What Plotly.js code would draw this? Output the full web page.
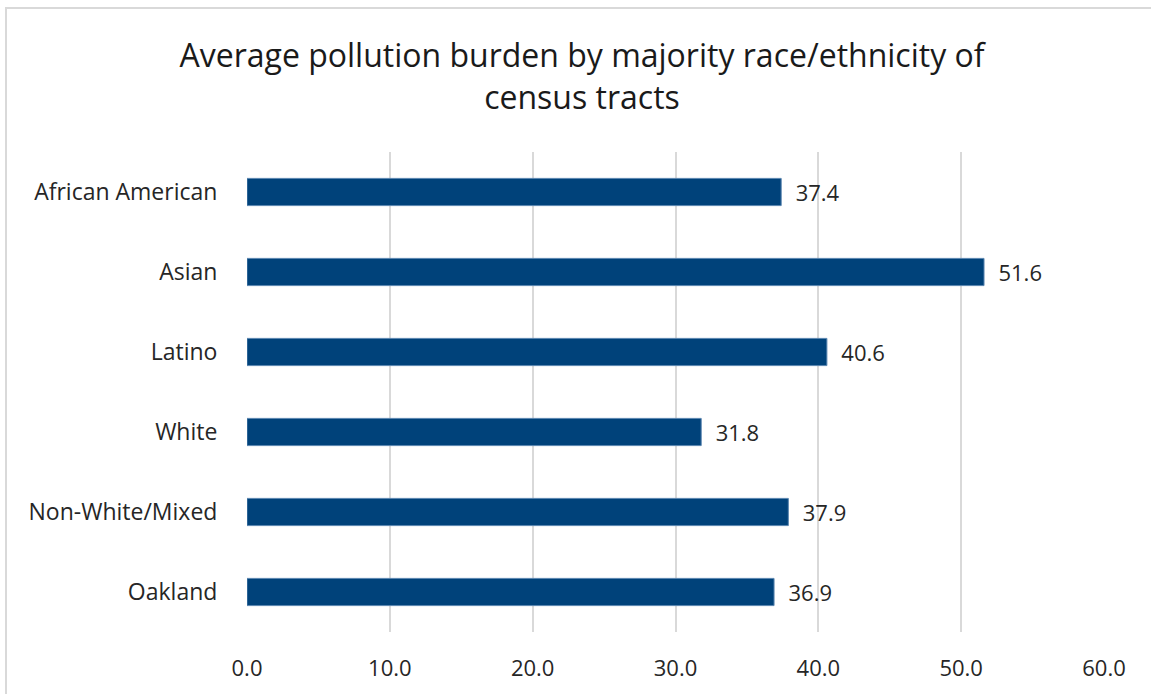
<!DOCTYPE html>
<html>
<head>
<meta charset="utf-8">
<script src="https://cdn.plot.ly/plotly-3.0.1.min.js"></script>
<style>html,body{margin:0;padding:0;background:#fff;}#chart{width:1151px;height:694px;}</style>
</head>
<body>
<div id="chart"></div>
<script>
const categories = ["African American", "Asian", "Latino", "White", "Non-White/Mixed", "Oakland"];
const values = [37.4, 51.6, 40.6, 31.8, 37.9, 36.9];
const tickValues = [0, 10, 20, 30, 40, 50, 60];
const tickLabels = ["0.0", "10.0", "20.0", "30.0", "40.0", "50.0", "60.0"];
const titleText = "Average pollution burden by majority race/ethnicity of<br>census tracts";

const W = 1151, H = 694;
const m = {l: 247, r: 47, t: 152, b: 62};
const pw = W - m.l - m.r, ph = H - m.t - m.b;
const px = x => (x - m.l) / pw;
const py = y => (H - m.b - y) / ph;

const font = "'Open Sans', sans-serif";

const trace = {
  type: "bar",
  orientation: "h",
  y: categories,
  x: values,
  marker: {color: "#00427a", line: {color: "#5a86b0", width: 1}},
  text: values.map(v => "  " + v.toFixed(1)),
  textposition: "outside",
  constraintext: "none",
  cliponaxis: false,
  textfont: {family: font, size: 22, color: "#262626"},
  hoverinfo: "x+y"
};

const layout = {
  width: W, height: H,
  margin: m,
  paper_bgcolor: "#ffffff",
  plot_bgcolor: "#ffffff",
  bargap: 0.66,
  showlegend: false,
  font: {family: font, color: "#262626"},
  title: {
    text: titleText,
    font: {family: font, size: 32, color: "#1a1a1a"},
    x: 582 / W, xref: "container", xanchor: "center",
    y: 1 - 67 / H, yref: "container", yanchor: "middle"
  },
  xaxis: {
    range: [0, 60],
    tickvals: tickValues,
    ticktext: tickLabels,
    showgrid: true,
    gridcolor: "#d9d9d9",
    gridwidth: 2,
    zeroline: false,
    showline: false,
    ticks: "outside",
    ticklen: 17,
    tickcolor: "rgba(0,0,0,0)",
    tickfont: {family: font, size: 22, color: "#262626"},
    fixedrange: true
  },
  yaxis: {
    autorange: "reversed",
    showgrid: false,
    zeroline: false,
    showline: false,
    ticks: "outside",
    ticklen: 24,
    tickcolor: "rgba(0,0,0,0)",
    tickfont: {family: font, size: 23, color: "#262626"},
    fixedrange: true
  },
  shapes: [{
    type: "rect", xref: "paper", yref: "paper",
    x0: px(6), x1: px(1160), y0: py(8), y1: py(710),
    line: {color: "#d9d9d9", width: 2}, fillcolor: "rgba(0,0,0,0)", layer: "below"
  }]
};

Plotly.newPlot("chart", [trace], layout, {displayModeBar: false, staticPlot: true});
</script>
</body>
</html>
